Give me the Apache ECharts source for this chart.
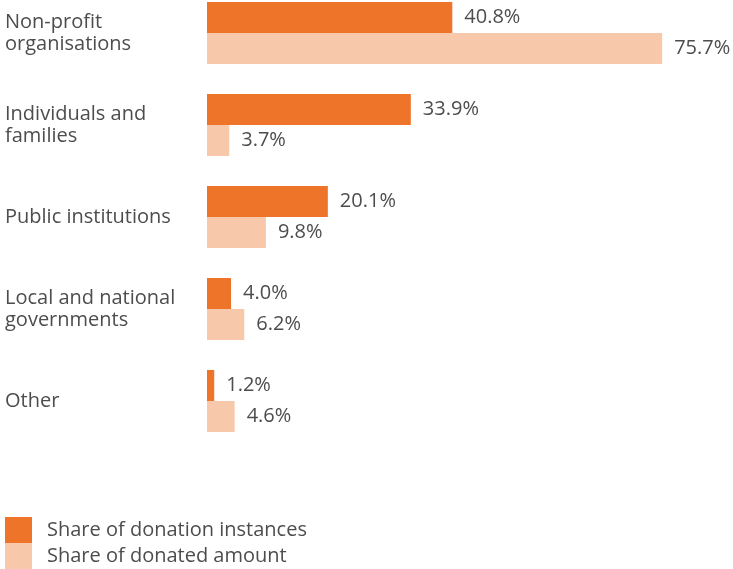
<!DOCTYPE html>
<html>
<head>
<meta charset="utf-8">
<script src="https://cdn.jsdelivr.net/npm/echarts@6/dist/echarts.min.js"></script>
<style>
  html, body { margin: 0; padding: 0; background: #fff; }
  #chart { width: 733px; height: 569px; }
</style>
</head>
<body>
<div id="chart"></div>
<script>
// Recipients of donations, top to bottom
const categories = [
  'Non-profit\norganisations',
  'Individuals and\nfamilies',
  'Public institutions',
  'Local and national\ngovernments',
  'Other'
];
// Percentages per recipient group
const shareInstances = [40.8, 33.9, 20.1, 4.0, 1.2];
const shareAmount = [75.7, 3.7, 9.8, 6.2, 4.6];
const seriesNames = ['Share of donation instances', 'Share of donated amount'];

const DARK = '#EE7429';
const LIGHT = '#F8C8AA';
const TEXT = '#4d4d4d';
const FONT = '"Open Sans", "Noto Sans", sans-serif';
const SIZE = 20;

const chart = echarts.init(document.getElementById('chart'));

const labelStyle = {
  show: true,
  position: 'right',
  distance: 12,
  color: TEXT,
  fontFamily: FONT,
  fontSize: SIZE,
  formatter: p => p.value.toFixed(1) + '%'
};

chart.setOption({
  animation: false,
  textStyle: { fontFamily: FONT },
  // categories sit on the ticks, first at the top edge, last at the bottom edge
  grid: { left: 207, top: 33, width: 481, height: 368 },
  xAxis: {
    type: 'value', min: 0, max: 80,
    show: false
  },
  yAxis: {
    type: 'category',
    inverse: true,
    boundaryGap: false,
    data: categories,
    axisLine: { show: false },
    axisTick: { show: false },
    splitLine: { show: false },
    axisLabel: {
      align: 'left',
      margin: 202,
      color: TEXT,
      fontFamily: FONT,
      fontSize: SIZE,
      lineHeight: 22
    }
  },
  legend: {
    orient: 'vertical',
    left: 5,
    top: 517,
    padding: 0,
    itemGap: 0,
    itemWidth: 27,
    itemHeight: 26,
    icon: 'rect',
    selectedMode: false,
    textStyle: { color: TEXT, fontFamily: FONT, fontSize: SIZE, padding: [0, 0, 0, 10] },
    data: seriesNames
  },
  series: [
    {
      name: seriesNames[0],
      type: 'bar',
      data: shareInstances,
      barWidth: 31,
      barGap: '0%',
      itemStyle: { color: DARK },
      label: labelStyle
    },
    {
      name: seriesNames[1],
      type: 'bar',
      data: shareAmount,
      barWidth: 31,
      barGap: '0%',
      itemStyle: { color: LIGHT },
      label: labelStyle
    }
  ]
});
</script>
</body>
</html>
